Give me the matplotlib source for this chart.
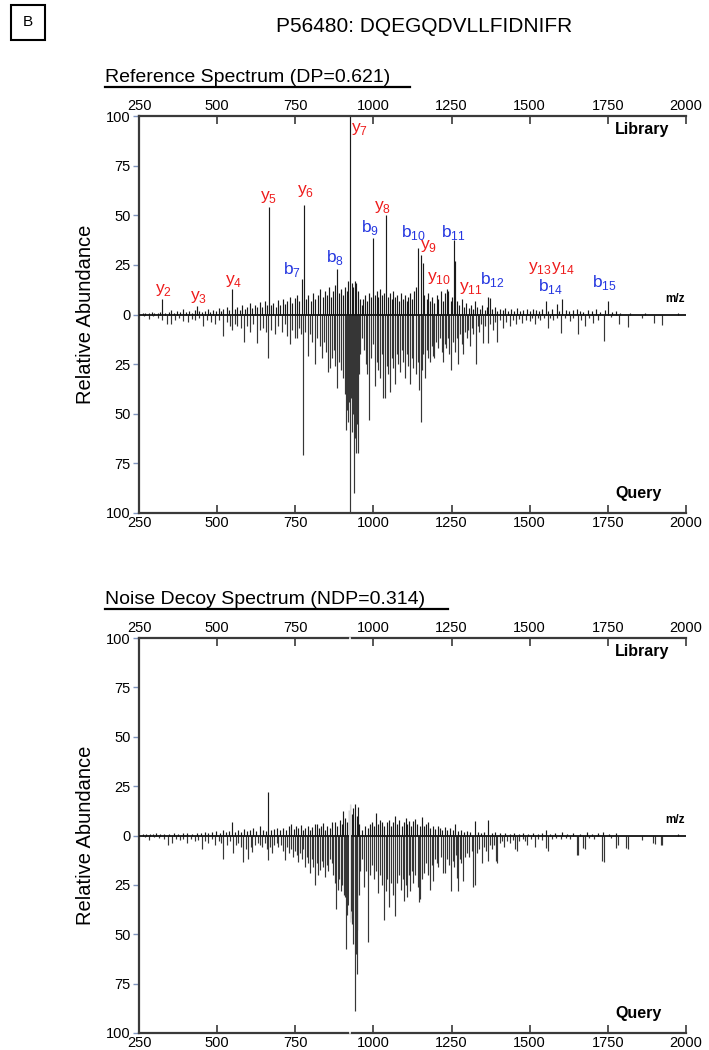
import matplotlib
matplotlib.use("Agg")
import matplotlib.pyplot as plt
from matplotlib import font_manager
from matplotlib.lines import Line2D
from matplotlib.patches import Rectangle

# ---- data ----
title = "P56480: DQEGQDVLLFIDNIFR"
panel_titles = ["Reference Spectrum (DP=0.621)", "Noise Decoy Spectrum (NDP=0.314)"]
x_ticks = [250, 500, 750, 1000, 1250, 1500, 1750, 2000]
y_ticks = [-100, -75, -50, -25, 0, 25, 50, 75, 100]

# reference spectrum, library side (m/z, relative abundance)
ref_lib_mz = [262, 270, 281, 290, 298, 310, 318, 323, 333, 345, 352, 362, 371, 380, 392, 400, 410, 418, 428, 435, 442, 452,
              460, 470, 478, 488, 496, 505, 512, 520, 530, 538, 548, 556, 565, 572, 580, 588, 596, 604, 612, 620, 628, 636, 644, 652, 658, 665,
              672, 680, 688, 695, 702, 710, 718, 725, 733, 740, 748, 755, 762, 770, 778, 785, 792, 800, 807, 814, 822, 830, 838, 845, 852, 858,
              864, 870, 876, 884, 890, 896, 902, 908, 914, 920, 925, 930, 935, 940, 945, 950, 956,
              962, 968, 974, 980, 986, 992, 998, 1004, 1010, 1016, 1022, 1028, 1034, 1040, 1046, 1052, 1058, 1064, 1070, 1076, 1082, 1088,
              1094, 1100, 1106, 1112, 1118, 1124, 1130, 1136, 1144, 1151, 1157, 1163, 1170, 1176, 1182, 1188, 1195, 1202, 1208, 1215, 1222,
              1228, 1234, 1240, 1247, 1252, 1258, 1262, 1268, 1275, 1282, 1290, 1297, 1305,
              1312, 1319, 1325, 1332, 1340, 1348, 1356, 1363, 1368, 1373, 1380, 1388, 1396, 1405, 1413, 1422, 1430, 1440, 1450, 1460, 1470,
              1480, 1490, 1500, 1510, 1520, 1530, 1540, 1551, 1560, 1572, 1587, 1595, 1604, 1615, 1625, 1640, 1650, 1660, 1672, 1685, 1700,
              1712, 1725, 1740, 1751, 1762, 1775, 1790, 1820, 1870, 1975]
ref_lib_int = [0.8, 1, 0.6, 1.2, 0.8, 1, 1.5, 8, 1, 1.5, 2.5, 1, 2, 1.5, 3, 1.5, 2, 1, 2.5, 4.5, 2, 1.5,
               2, 3, 1.5, 2.5, 2, 3.5, 2, 3, 4, 2.5, 13, 3, 4, 2.5, 5, 3, 4, 6, 3.5, 5, 4, 6.5, 4, 7, 5, 54,
               5, 6, 4, 7.5, 5, 8, 5.5, 7, 9, 6, 8.5, 10, 7, 18, 55, 8, 10, 7, 11, 8, 10, 13, 9, 12, 10, 14,
               9, 12, 15, 23, 11, 13, 10, 14, 12, 17, 100, 16, 14, 17, 16, 12, 8,
               5, 8, 10, 7, 11, 9, 38.5, 10, 12, 9, 13, 10, 11, 50, 9, 11, 8, 12, 9, 10, 7, 11,
               8, 10, 7, 9, 11, 8, 12, 14, 33.5, 30, 26, 10, 8, 11, 7, 9, 6, 10, 8, 12, 7,
               11, 13, 12, 7, 9, 37.5, 27, 7, 5, 8, 4, 6, 3.5,
               5, 3, 7, 4, 3, 5, 2.5, 4, 9, 8.5, 3, 4, 2, 3, 2.5, 3.5, 2, 3, 2, 3.5, 2,
               2.5, 3, 2, 3, 2.5, 2, 3, 7, 2, 3, 5.5, 2, 8, 2.5, 2, 2.5, 3, 2, 1.5, 2.5, 2,
               3, 1.5, 2.5, 7, 1.5, 2, 1, 0.8, 0.8, 1]

# reference spectrum, query side
ref_qry_mz = [265, 282, 295, 310, 325, 340, 352, 365, 378, 392, 407, 418, 430, 442, 455, 468, 480, 493, 505,
              519, 530, 540, 548, 556, 564, 575, 587, 596, 605, 615, 627, 636, 647, 655, 663, 672, 685, 695, 707, 716, 725, 733, 740, 749,
              755, 762, 768, 775, 782, 791, 798, 805, 813, 820, 828, 835, 842, 849, 855, 861, 867, 873, 878, 884, 890, 896, 903, 908,
              912, 916, 919, 922, 925, 928, 932, 935, 939, 942, 944, 947, 951, 955, 958,
              965, 970, 975, 980, 987, 992, 998, 1005, 1010, 1016, 1021, 1026, 1031, 1037, 1042, 1047, 1053, 1058, 1063, 1069, 1074,
              1079, 1085, 1090, 1095, 1101, 1106, 1111, 1117, 1122, 1128, 1136, 1142, 1147, 1151, 1156, 1160, 1165, 1170, 1176, 1181,
              1187, 1191, 1194, 1200, 1207, 1213, 1218, 1223, 1228, 1232, 1238, 1243, 1248, 1254, 1261, 1266, 1271, 1277, 1282, 1287,
              1293, 1298, 1303,
              1309, 1315, 1320, 1327, 1333, 1339, 1345, 1351, 1358, 1367, 1374, 1383, 1390, 1396, 1405, 1415, 1425, 1437, 1446, 1456,
              1466, 1476, 1488, 1501, 1508, 1517, 1525, 1533, 1545, 1559, 1566, 1575, 1588, 1600, 1612, 1629, 1640, 1655, 1665, 1677,
              1690, 1703, 1719, 1738, 1760, 1786, 1815, 1860, 1898, 1924, 1975]
ref_qry_int = [1, 2.5, 1, 2, 3, 5, 5, 3, 2, 3.5, 4, 2.5, 3, 2, 6, 3, 4, 5, 3,
               11, 4, 6, 8, 5, 6, 7, 14, 6, 9, 5, 14.5, 8, 7, 9, 22, 8, 10, 6, 9, 5, 11, 15, 8, 12,
               12, 7, 10, 71, 9, 21, 10, 14, 25, 12, 16, 22, 14, 19, 29, 27, 22, 18, 26, 37, 24, 28, 32, 40,
               58, 48, 54, 44, 100, 42, 59, 50, 90, 62, 70, 55, 70, 30, 20,
               12, 18, 25, 30, 53, 22, 15, 36, 24, 28, 32, 20, 42, 42, 26, 30, 39, 22, 27, 35, 20,
               25, 29, 18, 24, 32, 20, 26, 35, 22, 27, 30, 24, 38, 54, 28, 20, 32, 18, 22, 24,
               16, 21, 22, 14, 17, 12, 19, 24, 15, 17, 12, 20, 28, 14, 19, 12, 25, 10, 15, 20,
               9, 12, 8,
               16, 7, 10, 25, 6, 9, 5, 14.5, 6, 14.5, 5, 8, 4, 14, 3, 7, 4, 6, 3, 5,
               2.5, 4.5, 3, 3.5, 2, 5, 2, 3, 2, 7, 2, 3, 2, 9.5, 2, 3.5, 2, 10, 3, 6,
               2, 4.5, 3, 13.4, 1.5, 5, 6.5, 2, 4.5, 5.5, 0.5]

# noise decoy spectrum, library side
dec_lib_mz = [262, 272, 284, 295, 305, 318, 330, 345, 362, 375, 390, 405, 420, 435, 448,
              460, 472, 485, 497, 508, 518, 528, 538, 547, 556, 566, 575, 585, 595, 605, 615, 625, 637, 646, 655, 664, 672, 682, 692, 702,
              712, 720, 729, 736, 745, 752, 760, 768, 775, 781, 790, 798, 805, 812, 819, 826, 833, 838, 845, 852, 860, 868, 877, 885,
              892, 898, 904, 910, 916, 921, 925, 930, 935, 941, 946, 950, 955,
              965, 972, 983, 990, 997, 1003, 1007, 1014, 1020, 1027, 1035, 1043, 1050, 1056, 1062, 1069, 1076, 1083, 1090, 1097, 1103,
              1107, 1114, 1120, 1127, 1133, 1140, 1148, 1155, 1162, 1168, 1175, 1182, 1190, 1197, 1205, 1213, 1220, 1228, 1236, 1245,
              1253, 1261, 1270, 1280, 1290, 1300, 1310, 1325, 1335, 1345, 1355, 1368, 1378, 1390,
              1405, 1420, 1437, 1450, 1465, 1479, 1495, 1510, 1525, 1540, 1551, 1565, 1580, 1602, 1618, 1640, 1660, 1682, 1700, 1720,
              1735, 1755, 1777, 1975]
dec_lib_int = [0.8, 1, 1, 0.8, 1.2, 0.8, 1, 1, 1.5, 1, 1.2, 1.5, 1, 1.5, 1.2,
               2, 1.5, 2, 2.5, 1.5, 3, 2, 2.5, 6.7, 2, 3, 2, 3.5, 2.5, 3, 4, 2.5, 5, 3, 2.5, 22, 3, 3.5, 4, 3,
               4, 3, 5, 6, 3.5, 5, 4, 5.5, 3, 4, 5, 3, 4.5, 6, 6, 4, 5, 6.3, 3, 5, 4, 7, 6.7, 5,
               8, 6, 12.6, 9, 7, 13, 16, 11, 14, 15.7, 10, 14.6, 6,
               3, 5, 4, 6, 7, 5, 11.3, 6, 8, 7, 5, 6.7, 8, 5, 7, 10, 6, 8, 5, 7, 9,
               6, 7.5, 5, 7.5, 8.5, 6, 5, 9.6, 5, 6, 7, 4, 5, 3.5, 5, 4, 3, 4.5, 3, 4,
               3, 6, 2.5, 3, 2, 2.5, 2, 7.2, 2, 1.5, 2, 8, 1.5, 2,
               1.2, 1.5, 1, 1.2, 1, 1.5, 1, 1.2, 1, 1.5, 3, 1, 1.5, 2, 1, 1.2, 1, 1.7, 1, 1.2,
               1.7, 1, 1.2, 0.8]

# noise decoy spectrum, query side
dec_qry_mz = [268, 282, 298, 315, 330, 342, 355, 368, 381, 392, 403, 415, 428, 440, 450,
              462, 472, 483, 493, 505, 512, 520, 530, 540, 552, 560, 568, 576, 584, 592, 600, 607, 613, 622, 630, 637, 645, 652, 658,
              664, 670, 675, 683, 690, 696,
              704, 710, 717, 724, 730, 737, 744, 750, 756, 760, 766, 772, 776, 781, 787, 792, 797, 803, 808, 813, 818, 823, 829, 835,
              840, 845, 850, 856, 861, 866, 872, 877, 881, 886, 890, 895, 900, 905, 910, 913, 917, 920, 924, 928, 930, 933, 936, 940,
              943, 946, 949, 953, 957,
              963, 970, 976, 983, 990, 996, 1002, 1009, 1016, 1022, 1027, 1033, 1039, 1044, 1049, 1055, 1062, 1069, 1075, 1082, 1089,
              1094, 1098, 1104, 1109, 1113, 1117, 1123, 1128, 1134, 1141, 1146, 1149, 1155, 1161, 1168, 1175, 1181, 1186, 1191, 1197,
              1202, 1208, 1215, 1223, 1228, 1235, 1241, 1247, 1253, 1259, 1264, 1267, 1271, 1276, 1281, 1287, 1293, 1299, 1307, 1314,
              1320, 1325, 1332, 1339, 1346, 1353, 1360, 1366, 1372, 1380, 1387, 1393, 1396,
              1405, 1412, 1419, 1428, 1437, 1445, 1452, 1459, 1467, 1477, 1485, 1492, 1505, 1517, 1528, 1540, 1551, 1559, 1570, 1585,
              1600, 1615, 1630, 1650, 1655, 1670, 1677, 1690, 1705, 1730, 1738, 1760, 1776, 1783, 1809, 1815, 1860, 1895, 1902, 1921, 1924]
dec_qry_int = [1, 2.5, 1, 1.5, 2, 5, 4, 2, 2.5, 2, 4, 2, 3, 2.5, 6.7,
               3, 4, 2, 5, 3, 4, 11.8, 5, 3, 9, 5, 4, 6, 13.5, 7, 12, 6, 8.4, 5, 4, 5, 6, 4, 7,
               12.6, 6, 9, 5, 4, 6,
               5, 8, 12.6, 6, 9, 7, 11, 8, 10, 13.5, 9, 12, 7, 16, 11, 14, 19, 12, 16, 25, 14, 20, 17.7, 13,
               16, 21, 15, 18, 12, 14, 20, 24, 37, 27.6, 22, 28, 25, 30, 31, 57.7, 40, 35, 44, 38, 45, 42, 55, 89,
               60, 70, 48, 30, 18,
               12, 26, 18, 54, 20, 15, 22, 18, 29, 20, 25, 43, 28, 22, 36, 24, 30, 41, 24, 20, 27.6,
               22, 33, 25, 31, 20, 28, 18, 24, 20, 26, 33.5, 32, 22, 19, 14, 20, 27.6, 15, 23, 12,
               14, 16, 11, 19, 19, 12, 15, 28, 13, 16, 10, 21.7, 28, 12, 14, 23, 11, 9, 10.7, 8,
               26, 25, 9, 7, 14, 6, 8, 13, 5, 7, 5, 13, 14,
               4, 3, 5.6, 3, 4, 2.5, 7, 7.6, 3, 2, 3, 4.7, 2, 6, 2, 2.5, 6.4, 7.6, 2, 1.5,
               2, 1.5, 2, 9.8, 10, 6.4, 6.7, 1.5, 2, 13, 13.5, 1.5, 6.4, 5, 6.4, 6.7, 2.5, 3.9, 4.2, 4.7, 5]

# annotated fragment ions of the reference spectrum
ion_names = ["y2", "y3", "y4", "y5", "y6", "b7", "b8", "y7", "b9", "y8", "b10", "y9", "b11",
             "y10", "y11", "b12", "y13", "y14", "b14", "b15"]
# label anchor (m/z, abundance)
ion_label_mz = [328, 440, 552, 664, 784, 739, 877, 955, 989, 1030, 1128, 1176, 1256,
                1211, 1312, 1382, 1533, 1608, 1565, 1738]
ion_label_y = [12.5, 9, 17, 59, 62.4, 22.7, 28.6, 93.7, 43.8, 54, 41.3, 34.5, 41.3,
               18.4, 13.4, 17.6, 23.5, 23.5, 14.2, 15.9]

# ---- fonts ----
plt.rcParams['font.family'] = ['Liberation Sans', 'DejaVu Sans']
plt.rcParams['mathtext.fontset'] = 'custom'
plt.rcParams['mathtext.rm'] = 'Liberation Sans'

# narrow face for tick labels if one is installed
tick_font = font_manager.FontProperties(family='Liberation Sans', size=10.5)
for f in font_manager.fontManager.ttflist:
    if f.name in ('Liberation Sans Narrow', 'Arial Narrow') and f.weight in (400, 'normal', 'regular') \
            and f.style == 'normal':
        tick_font = font_manager.FontProperties(fname=f.fname, size=11)
        break

fig = plt.figure(figsize=(7.09, 10.5), dpi=100)
W, H = 709.0, 1050.0

ax1 = fig.add_axes([139 / W, 1 - 513 / H, 547 / W, 397 / H])
ax2 = fig.add_axes([139 / W, 1 - 1033 / H, 547 / W, 395 / H])


def draw_panel(ax, lib_mz, lib_int, qry_mz, qry_int):
    ax.vlines(qry_mz, 0, [-v for v in qry_int], color='#363636', linewidth=0.85)
    ax.vlines(lib_mz, 0, lib_int, color='#1a1a1a', linewidth=0.85)
    ax.axhline(0, color='#111111', linewidth=1.3, zorder=3)
    ax.set_xlim(250, 2000)
    ax.set_ylim(-100, 100)
    ax.spines['right'].set_visible(False)
    for s in ['left', 'top', 'bottom']:
        ax.spines[s].set_color('#3a3a3a')
        ax.spines[s].set_linewidth(1.6)
    ax.set_xticks(x_ticks)
    ax.set_xticklabels([str(t) for t in x_ticks], fontproperties=tick_font)
    ax.tick_params(axis='x', which='both', direction='in', length=6, width=1.2,
                   top=True, labeltop=True, bottom=True, labelbottom=True,
                   color='#3a3a3a', pad=2)
    ax.set_yticks(y_ticks)
    ax.set_yticklabels([str(abs(t)) for t in y_ticks], fontproperties=tick_font)
    ax.tick_params(axis='y', direction='out', length=4, width=1, color='#8196c0', pad=2)
    ax.set_ylabel('Relative Abundance', fontsize=14.5)
    ax.yaxis.set_label_coords(-44 / 547, 0.5)
    ax.text(0.97, 0.965, 'Library', transform=ax.transAxes, ha='right', va='center',
            fontsize=11.5, fontweight='bold')
    ax.text(0.955, 0.05, 'Query', transform=ax.transAxes, ha='right', va='center',
            fontsize=11.5, fontweight='bold')
    ax.text(0.998, 0.54, 'm/z', transform=ax.transAxes, ha='right', va='center',
            fontsize=8.5, fontweight='bold')


draw_panel(ax1, ref_lib_mz, ref_lib_int, ref_qry_mz, ref_qry_int)
draw_panel(ax2, dec_lib_mz, dec_lib_int, dec_qry_mz, dec_qry_int)

# white gap at the removed precursor in the decoy panel
ax2.axvline(925, color='white', linewidth=1.2, zorder=4, clip_on=False)

for name, mx, my in zip(ion_names, ion_label_mz, ion_label_y):
    col = '#ee1c1c' if name[0] == 'y' else '#2436e0'
    ax1.text(mx, my, name[0] + r'$_{\mathregular{' + name[1:] + '}}$', color=col,
             fontsize=12.5, ha='center', va='center')

# headings
fig.add_artist(Rectangle((11 / W, 1 - 40 / H), 34 / W, 35 / H, transform=fig.transFigure,
                         fill=False, edgecolor='black', linewidth=1.5))
fig.text(28 / W, 1 - 22.5 / H, 'B', ha='center', va='center', fontsize=11)
fig.text(424 / W, 1 - 27 / H, title, ha='center', va='center', fontsize=15)

for txt, ytxt, xend in [(panel_titles[0], 77, 410), (panel_titles[1], 599, 448)]:
    fig.text(105 / W, 1 - ytxt / H, txt, ha='left', va='center', fontsize=14)
    fig.add_artist(Line2D([105 / W, xend / W], [1 - (ytxt + 10) / H] * 2, transform=fig.transFigure,
                          color='black', linewidth=1.6))

plt.savefig('out.png', dpi=100)
